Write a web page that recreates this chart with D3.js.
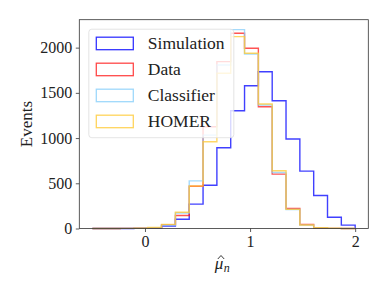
<!DOCTYPE html>
<html>
<head>
<meta charset="utf-8">
<script src="https://cdn.jsdelivr.net/npm/d3@7"></script>
<style>
  body { margin: 0; background: #fff; }
  text { font-family: "Liberation Serif", "DejaVu Serif", serif; fill: #222; }
</style>
</head>
<body>
<script>
// histogram range and bins
const binLo = -0.5, binHi = 2.0, nBins = 19;

const seriesNames = ['Simulation', 'Data', 'Classifier', 'HOMER'];
const seriesColors = ['#0000ff', '#ff1a1a', '#87cefa', '#ffc933'];

const simulation = [0, 0, 0, 1, 6, 27, 102, 269, 479, 893, 1302, 1579, 1734, 1413, 989, 634, 365, 125, 37];
const dataCounts = [0, 0, 1, 3, 10, 40, 144, 468, 1125, 1845, 2159, 1993, 1347, 601, 221, 44, 6, 1, 0];
const classifier = [0, 0, 1, 2, 8, 36, 172, 527, 1033, 1808, 2199, 1930, 1365, 620, 210, 37, 7, 1, 0];
const homer = [0, 0, 1, 3, 11, 46, 180, 470, 959, 1716, 2122, 1938, 1376, 638, 212, 38, 10, 2, 0];

const xTicks = [0, 1, 2];
const yTicks = [0, 500, 1000, 1500, 2000];

const width = 388, height = 291;
const margin = { top: 19.7, right: 19.7, bottom: 62.5, left: 79.3 };
const w = width - margin.left - margin.right;
const h = height - margin.top - margin.bottom;

const edges = d3.range(nBins + 1).map(i => binLo + i * (binHi - binLo) / nBins);
const allSeries = [simulation, dataCounts, classifier, homer];

const pad = (binHi - binLo) * 0.05;
const x = d3.scaleLinear().domain([binLo - pad, binHi + pad]).range([0, w]);
const yMax = d3.max(allSeries, s => d3.max(s));
const y = d3.scaleLinear().domain([0, yMax * 1.05]).range([h, 0]);

const svg = d3.select('body').append('svg')
  .attr('width', width)
  .attr('height', height);

const g = svg.append('g')
  .attr('transform', `translate(${margin.left}, ${margin.top})`);

const line = d3.line()
  .x(d => x(d[0]))
  .y(d => y(d[1]));

function stepPoints(counts) {
  const pts = [[edges[0], 0]];
  counts.forEach((c, i) => {
    pts.push([edges[i], c]);
    pts.push([edges[i + 1], c]);
  });
  pts.push([edges[nBins], 0]);
  return pts;
}

allSeries.forEach((s, i) => {
  g.append('path')
    .attr('class', 'hist')
    .attr('d', line(stepPoints(s)))
    .attr('fill', 'none')
    .attr('stroke', seriesColors[i])
    .attr('stroke-opacity', 0.75)
    .attr('stroke-width', 1.4);
});

// axes
const xAxis = d3.axisBottom(x).tickValues(xTicks).tickFormat(d3.format('d')).tickSize(3.5).tickPadding(4);
const yAxis = d3.axisLeft(y).tickValues(yTicks).tickFormat(d3.format('d')).tickSize(3.5).tickPadding(3.5);

const gx = g.append('g')
  .attr('class', 'axis axis--x')
  .attr('transform', `translate(0, ${h})`)
  .call(xAxis);
const gy = g.append('g')
  .attr('class', 'axis axis--y')
  .call(yAxis);

[gx, gy].forEach(a => {
  a.select('.domain').remove();
  a.selectAll('line').attr('stroke', '#333').attr('stroke-width', 0.8);
  a.selectAll('text').attr('font-size', 16).attr('fill', '#222')
    .attr('font-family', '"Liberation Serif", serif');
});

g.append('rect')
  .attr('width', w)
  .attr('height', h)
  .attr('fill', 'none')
  .attr('stroke', '#333')
  .attr('stroke-width', 0.8);

// legend
const legend = g.append('g')
  .attr('transform', 'translate(9.5, 9.5)');
legend.append('rect')
  .attr('width', 145)
  .attr('height', 108.5)
  .attr('rx', 3)
  .attr('fill', '#fff')
  .attr('fill-opacity', 0.8)
  .attr('stroke', '#ddd')
  .attr('stroke-width', 0.8);

seriesNames.forEach((name, i) => {
  const row = legend.append('g')
    .attr('transform', `translate(7.5, ${8 + i * 26})`);
  row.append('rect')
    .attr('width', 37)
    .attr('height', 12.5)
    .attr('fill', 'none')
    .attr('stroke', seriesColors[i])
    .attr('stroke-opacity', 0.8)
    .attr('stroke-width', 1.3);
  row.append('text')
    .attr('x', 51.5)
    .attr('y', 11.5)
    .attr('font-size', 17.5)
    .text(name);
});

// axis titles
svg.append('text')
  .attr('transform', `translate(32, ${margin.top + h / 2}) rotate(-90)`)
  .attr('text-anchor', 'middle')
  .attr('font-size', 17)
  .text('Events');

// x label: mu-hat with subscript n
const lx = margin.left + w / 2 - 9, ly = 269;
const xl = svg.append('text')
  .attr('x', lx)
  .attr('y', ly)
  .attr('font-size', 17)
  .attr('font-style', 'italic');
xl.append('tspan').text('μ');
xl.append('tspan')
  .attr('dx', 0.5)
  .attr('dy', 3)
  .attr('font-size', 12)
  .text('n');
// hat accent drawn as a small stroke
svg.append('path')
  .attr('d', `M${lx + 3},${ly - 10} L${lx + 6.2},${ly - 13.5} L${lx + 9.4},${ly - 10}`)
  .attr('fill', 'none')
  .attr('stroke', '#222')
  .attr('stroke-width', 0.9);
</script>
</body>
</html>
